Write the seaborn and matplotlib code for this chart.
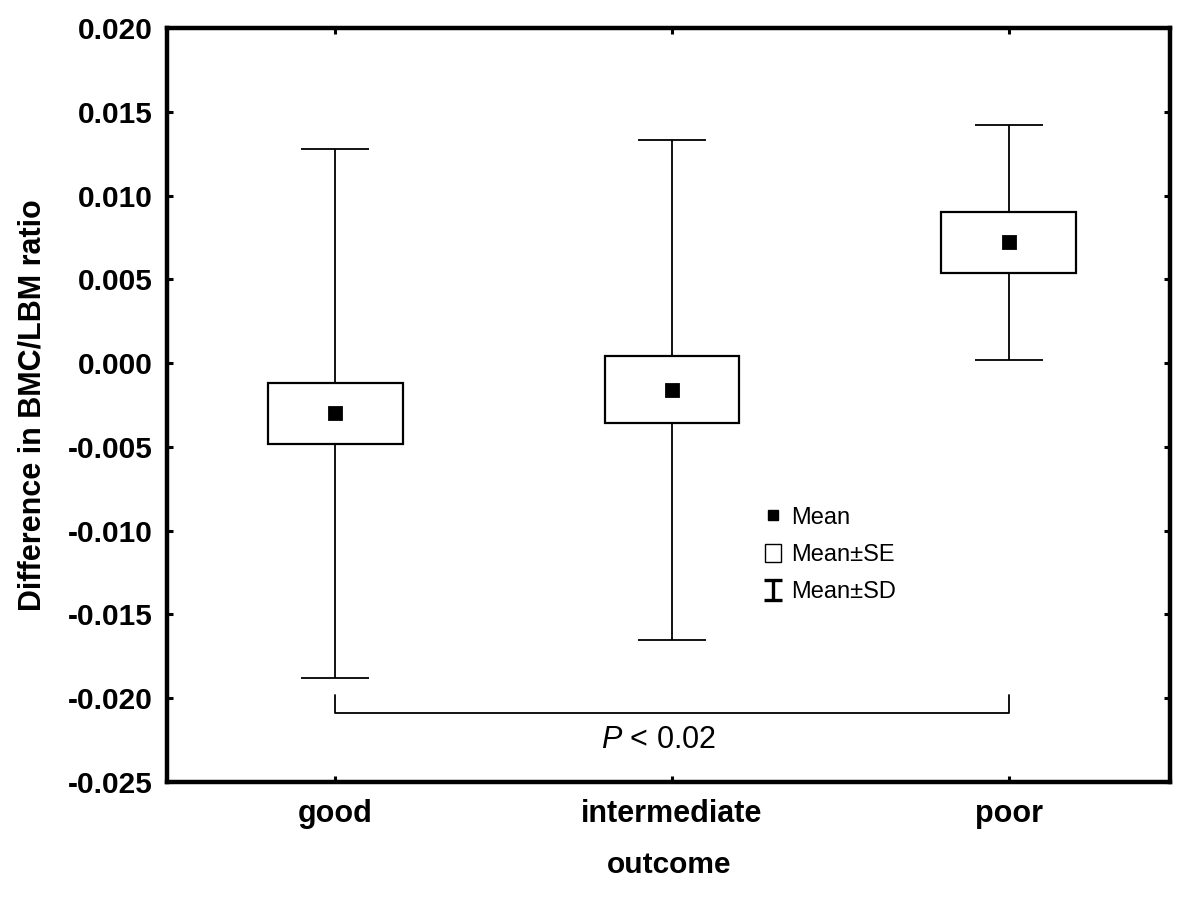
import numpy as np
import pandas as pd
import matplotlib
matplotlib.use("Agg")
import matplotlib.pyplot as plt
from matplotlib.lines import Line2D
from matplotlib.patches import Patch
from matplotlib.path import Path
import seaborn as sns

# ---- data ----
categories = ["good", "intermediate", "poor"]
means = [-0.0030, -0.0016, 0.0072]
se = [0.0018, 0.0020, 0.0018]
sd = [0.0158, 0.0149, 0.0070]
yticks = [-0.025, -0.020, -0.015, -0.010, -0.005, 0.000, 0.005, 0.010, 0.015, 0.020]
bracket_top = -0.0198
bracket_level = -0.0209
p_text_y = -0.0225
p_label = "< 0.02"

sns.set_style("ticks")
plt.rcParams["font.family"] = ["Liberation Sans", "DejaVu Sans"]
plt.rcParams["mathtext.fontset"] = "custom"
plt.rcParams["mathtext.it"] = "Liberation Sans:italic"
plt.rcParams["mathtext.rm"] = "Liberation Sans"
plt.rcParams["text.color"] = "black"
plt.rcParams["axes.labelcolor"] = "black"
plt.rcParams["xtick.color"] = "black"
plt.rcParams["ytick.color"] = "black"

df = pd.DataFrame({"outcome": categories, "mean": means, "se": se, "sd": sd})

fig = plt.figure(figsize=(12, 8.97), dpi=100)
ax = fig.add_axes([0.1392, 0.1282, 0.836, 0.8406])

x = np.arange(len(categories))
m = np.array(means)
s_e = np.array(se)
s_d = np.array(sd)

# SD whiskers
ax.errorbar(x, m, yerr=s_d, fmt="none", ecolor="black", elinewidth=1.3,
            capsize=24.5, capthick=1.3, zorder=1)
# SE boxes
ax.bar(x, 2 * s_e, bottom=m - s_e, width=0.4, facecolor="white",
       edgecolor="black", linewidth=1.6, zorder=2)
# Means
sns.pointplot(data=df, x="outcome", y="mean", order=categories, linestyle="none",
              marker="s", markersize=9, color="black", errorbar=None, ax=ax)
for ln in ax.lines:
    ln.set_zorder(3)

# significance bracket
ax.plot([0, 0, 2, 2], [bracket_top, bracket_level, bracket_level, bracket_top],
        color="black", lw=1.3, zorder=2)
ax.text(0.96, p_text_y, r"$\it{P}$ " + p_label, ha="center", va="center",
        fontsize=22, color="black")

ax.set_xlim(-0.5, 2.48)
ax.set_ylim(-0.025, 0.020)
ax.set_xticks(x)
ax.set_xticklabels(categories, fontsize=22, fontweight="bold")
ax.set_yticks(yticks)
ax.set_yticklabels([f"{v:.3f}" for v in yticks], fontsize=21.5, fontweight="bold")
ax.set_xlabel("outcome", fontsize=21.5, fontweight="bold", labelpad=16)
ax.set_ylabel("Difference in BMC/LBM ratio", fontsize=22, fontweight="bold")
ax.yaxis.set_label_coords(-0.119, 0.5)

for sp in ax.spines.values():
    sp.set_visible(True)
    sp.set_linewidth(3.2)
    sp.set_color("black")
ax.tick_params(direction="in", length=4, width=2.2, top=True, right=True,
               colors="black")
ax.tick_params(axis="y", pad=10)
ax.tick_params(axis="x", pad=12)

# legend
ibar = Path([(-0.9, 1), (0.9, 1), (0, 1), (0, -1), (-0.9, -1), (0.9, -1)],
            [Path.MOVETO, Path.LINETO, Path.MOVETO, Path.LINETO, Path.MOVETO, Path.LINETO])
handles = [
    Line2D([], [], marker="s", color="black", linestyle="none", markersize=7),
    Patch(facecolor="white", edgecolor="black", linewidth=1.0),
    Line2D([], [], marker=ibar, color="black", linestyle="none", markersize=14,
           markeredgewidth=2.4, fillstyle="none"),
]
leg = ax.legend(handles, ["Mean", "Mean±SE", "Mean±SD"], loc="upper left",
                bbox_to_anchor=(0.587, 0.378), frameon=False, fontsize=17,
                handlelength=0.65, handleheight=0.85, handletextpad=0.45,
                labelspacing=0.62, borderaxespad=0)
for t in leg.get_texts():
    t.set_color("black")

fig.savefig("out.png", dpi=100)
